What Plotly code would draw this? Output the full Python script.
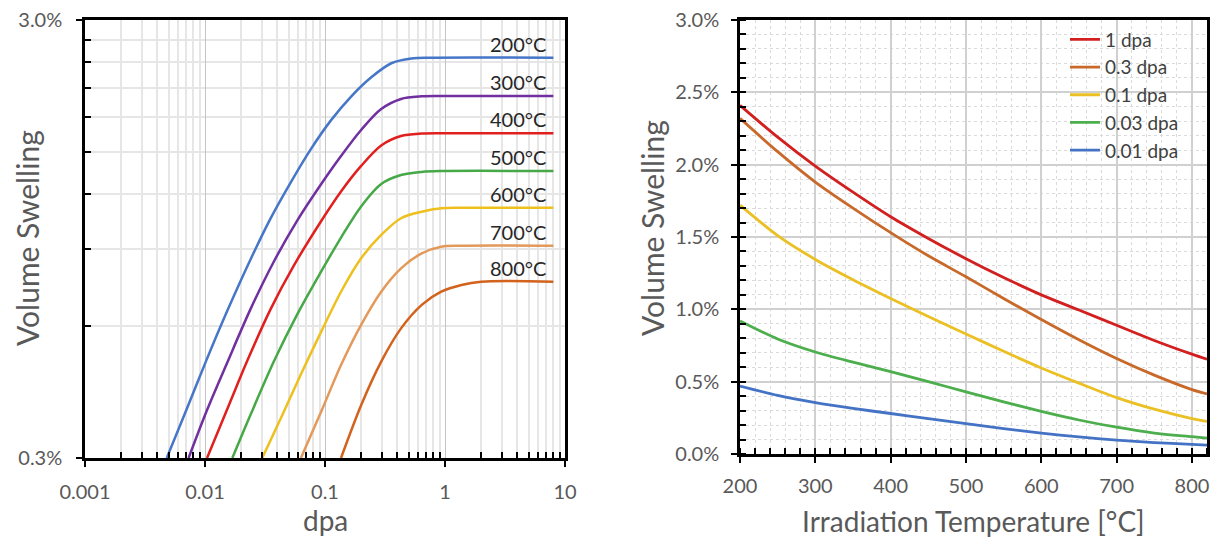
import math
import plotly.graph_objects as go

# ---------------- Left chart data: swelling vs dose (log-log) ----------------
dpa_200 = [0.0048, 0.0071, 0.0101, 0.0154, 0.024, 0.0353, 0.052, 0.076, 0.112, 0.165, 0.243, 0.357, 0.524, 0.771, 8.0]
sw_200 = [0.30, 0.39, 0.496, 0.652, 0.853, 1.059, 1.28, 1.52, 1.77, 2.006, 2.22, 2.39, 2.45, 2.46, 2.46]

dpa_300 = [0.0073, 0.0104, 0.0154, 0.024, 0.0377, 0.059, 0.093, 0.136, 0.20, 0.294, 0.43, 0.64, 0.93, 8.0]
sw_300 = [0.30, 0.386, 0.497, 0.657, 0.845, 1.048, 1.267, 1.468, 1.683, 1.879, 1.981, 2.008, 2.012, 2.012]

dpa_400 = [0.0104, 0.0154, 0.0225, 0.0353, 0.0554, 0.093, 0.136, 0.20, 0.294, 0.43, 0.64, 0.93, 8.0]
sw_400 = [0.30, 0.389, 0.50, 0.657, 0.828, 1.043, 1.218, 1.393, 1.551, 1.630, 1.651, 1.654, 1.654]

dpa_500 = [0.0169, 0.024, 0.0377, 0.059, 0.093, 0.136, 0.20, 0.294, 0.43, 0.64, 0.93, 8.0]
sw_500 = [0.30, 0.377, 0.50, 0.64, 0.80, 0.956, 1.126, 1.267, 1.328, 1.350, 1.356, 1.356]

dpa_600 = [0.030, 0.0443, 0.063, 0.093, 0.136, 0.20, 0.294, 0.43, 0.64, 0.93, 1.37, 8.0]
sw_600 = [0.30, 0.377, 0.466, 0.583, 0.719, 0.857, 0.969, 1.058, 1.095, 1.115, 1.118, 1.118]

dpa_700 = [0.063, 0.093, 0.136, 0.20, 0.294, 0.43, 0.64, 0.93, 1.37, 8.0]
sw_700 = [0.30, 0.383, 0.489, 0.604, 0.719, 0.813, 0.880, 0.911, 0.916, 0.916]

dpa_800 = [0.136, 0.20, 0.294, 0.43, 0.64, 0.93, 1.37, 2.0, 8.0]
sw_800 = [0.30, 0.396, 0.498, 0.593, 0.671, 0.719, 0.745, 0.758, 0.758]

left_labels = ["200°C", "300°C", "400°C", "500°C", "600°C", "700°C", "800°C"]
left_colors = ["#4676C8", "#7030A0", "#E0201E", "#46A846", "#EDC01E", "#E3995A", "#D2621C"]
left_x = [dpa_200, dpa_300, dpa_400, dpa_500, dpa_600, dpa_700, dpa_800]
left_y = [sw_200, sw_300, sw_400, sw_500, sw_600, sw_700, sw_800]

dpa_major = [0.001, 0.01, 0.1, 1, 10]
dpa_major_text = ["0.001", "0.01", "0.1", "1", "10"]
dpa_minor = [m * d for d in [0.001, 0.01, 0.1, 1] for m in range(2, 10)]
sw_log_major = [0.3, 3.0]
sw_log_major_text = ["0.3%", "3.0%"]
sw_log_minor = [0.6, 0.9, 1.2, 1.5, 1.8, 2.1, 2.4, 2.7]

# ---------------- Right chart data: swelling vs temperature ----------------
temp = [200, 250, 300, 350, 400, 450, 500, 550, 600, 650, 700, 750, 800, 820]
sw_1 = [2.41, 2.19, 1.99, 1.81, 1.64, 1.49, 1.35, 1.22, 1.10, 0.995, 0.89, 0.785, 0.69, 0.655]
sw_03 = [2.32, 2.09, 1.88, 1.70, 1.53, 1.37, 1.225, 1.075, 0.93, 0.79, 0.66, 0.545, 0.445, 0.415]
sw_01 = [1.72, 1.51, 1.345, 1.205, 1.075, 0.95, 0.83, 0.71, 0.595, 0.49, 0.39, 0.31, 0.245, 0.225]
sw_003 = [0.92, 0.795, 0.705, 0.635, 0.57, 0.50, 0.43, 0.36, 0.295, 0.235, 0.185, 0.145, 0.12, 0.11]
sw_001 = [0.47, 0.405, 0.355, 0.315, 0.28, 0.245, 0.21, 0.175, 0.145, 0.118, 0.096, 0.079, 0.066, 0.061]

right_names = ["1 dpa", "0.3 dpa", "0.1 dpa", "0.03 dpa", "0.01 dpa"]
right_colors = ["#D21F1F", "#C8692A", "#EBC024", "#4CAE4C", "#4472C4"]
right_y = [sw_1, sw_03, sw_01, sw_003, sw_001]

FONT = "Lato"
TICK_COLOR = "#595959"

fig = go.Figure()

for name, col, xs, ys in zip(left_labels, left_colors, left_x, left_y):
    fig.add_trace(go.Scatter(x=xs, y=ys, mode="lines", name=name, showlegend=False,
                             line=dict(color=col, width=2.5, shape="spline", smoothing=0.9),
                             xaxis="x", yaxis="y"))
    fig.add_annotation(x=math.log10(xs[-1]), y=math.log10(ys[-1]), xref="x", yref="y",
                       text=name, showarrow=False, xanchor="right", yanchor="bottom",
                       xshift=-5, yshift=0, font=dict(family=FONT, size=20, color="#262626"))

for name, col, ys in zip(right_names, right_colors, right_y):
    fig.add_trace(go.Scatter(x=temp, y=ys, mode="lines", name=name,
                             line=dict(color=col, width=2.8, shape="spline", smoothing=0.8),
                             xaxis="x2", yaxis="y2"))

axis_common = dict(showline=True, linecolor="black", linewidth=2.5, mirror=True,
                   ticks="outside", ticklen=6, tickwidth=2, tickcolor="black", automargin=False,
                   tickfont=dict(family=FONT, size=20, color=TICK_COLOR), zeroline=False)

fig.update_layout(
    width=1211, height=540,
    margin=dict(l=0, r=0, t=0, b=0),
    paper_bgcolor="white", plot_bgcolor="white",
    showlegend=True,
    legend=dict(x=1065 / 1211, y=0.962, xanchor="left", yanchor="top",
                bgcolor="rgba(0,0,0,0)", font=dict(family=FONT, size=19, color="#404040"),
                itemwidth=30, tracegroupgap=0),
    xaxis=dict(domain=[85 / 1211, 565 / 1211], type="log", range=[-3, 1],
               tickmode="array", tickvals=dpa_major, ticktext=dpa_major_text,
               showgrid=True, gridcolor="#C4C4C4", gridwidth=1, ticklabelstandoff=8,
               minor=dict(tickmode="array", tickvals=dpa_minor, ticks="inside", ticklen=6,
                          tickwidth=1.5, tickcolor="black", showgrid=True,
                          gridcolor="#E6E6E6", gridwidth=1.5),
               anchor="y", **axis_common),
    yaxis=dict(domain=[1 - 458 / 540, 1 - 20 / 540], type="log",
               range=[math.log10(0.3), math.log10(3.0)],
               tickmode="array", tickvals=sw_log_major, ticktext=sw_log_major_text,
               showgrid=True, gridcolor="#E6E6E6", gridwidth=1.5, ticklabelstandoff=10,
               minor=dict(tickmode="array", tickvals=sw_log_minor, ticks="inside", ticklen=6,
                          tickwidth=1.5, tickcolor="black", showgrid=True,
                          gridcolor="#E6E6E6", gridwidth=1.5),
               anchor="x", **axis_common),
    xaxis2=dict(domain=[740 / 1211, 1207 / 1211], range=[200, 820],
                tickmode="linear", tick0=200, dtick=100,
                showgrid=True, gridcolor="#D0D0D0", gridwidth=1.5, ticklabelstandoff=6,
                minor=dict(dtick=20, ticks="inside", ticklen=6, tickwidth=1.5, tickcolor="black",
                           showgrid=True, gridcolor="#DADADA", gridwidth=1, griddash="3px,3px"),
                anchor="y2", **axis_common),
    yaxis2=dict(domain=[1 - 454 / 540, 1 - 20 / 540], range=[0, 3],
                tickmode="linear", tick0=0, dtick=0.5, tickformat=".1f", ticksuffix="%",
                showgrid=True, gridcolor="#D0D0D0", gridwidth=1.5, ticklabelstandoff=8,
                minor=dict(dtick=0.1, ticks="inside", ticklen=6, tickwidth=1.5, tickcolor="black",
                           showgrid=True, gridcolor="#DADADA", gridwidth=1, griddash="3px,3px"),
                anchor="x2", **axis_common),
)

ytitle_font = dict(family=FONT, size=30, color=TICK_COLOR)
xtitle_font = dict(family=FONT, size=28, color=TICK_COLOR)
fig.add_annotation(text="Volume Swelling", x=27 / 1211, y=1 - 238 / 540, xref="paper", yref="paper",
                   textangle=-90, showarrow=False, xanchor="center", yanchor="middle", font=ytitle_font)
fig.add_annotation(text="dpa", x=325 / 1211, y=1 - 520 / 540, xref="paper", yref="paper",
                   showarrow=False, xanchor="center", yanchor="middle", font=xtitle_font)
fig.add_annotation(text="Volume Swelling", x=652 / 1211, y=1 - 228 / 540, xref="paper", yref="paper",
                   textangle=-90, showarrow=False, xanchor="center", yanchor="middle", font=ytitle_font)
fig.add_annotation(text="Irradiation Temperature [°C]", x=973 / 1211, y=1 - 521 / 540,
                   xref="paper", yref="paper", showarrow=False, xanchor="center", yanchor="middle",
                   font=xtitle_font)

fig.write_html("out.html")
